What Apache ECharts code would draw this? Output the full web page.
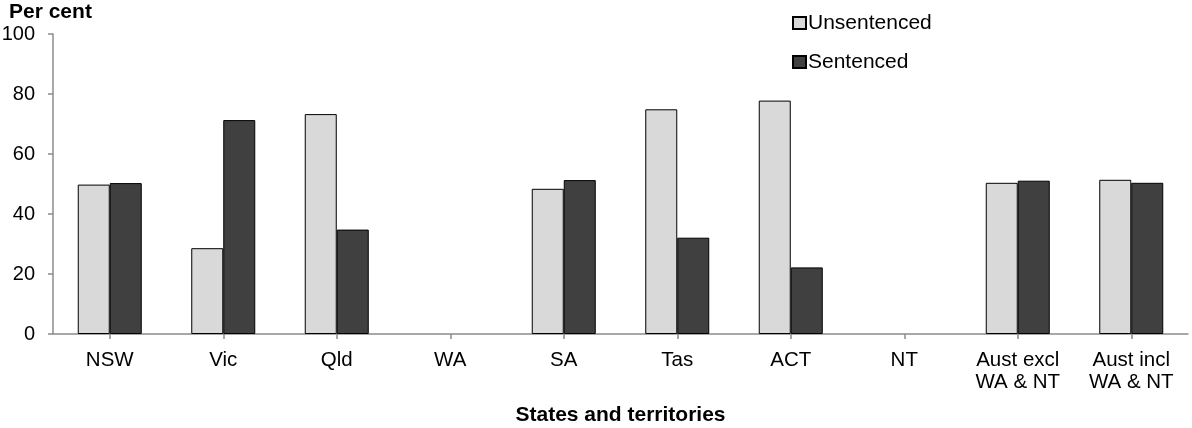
<!DOCTYPE html>
<html>
<head>
<meta charset="utf-8">
<title>Unsentenced and sentenced prisoners by state and territory</title>
<script src="https://cdn.jsdelivr.net/npm/echarts@6/dist/echarts.min.js"></script>
<style>
  html, body { margin: 0; padding: 0; background: #fff; }
  #chart { width: 1192px; height: 428px; }
</style>
</head>
<body>
<div id="chart"></div>
<script>
// States and territories along the category axis
const categories = ['NSW', 'Vic', 'Qld', 'WA', 'SA', 'Tas', 'ACT', 'NT', 'Aust excl\nWA & NT', 'Aust incl\nWA & NT'];

// Per cent values; WA and NT have no data
const unsentenced = [49.8, 28.6, 73.3, null, 48.4, 74.9, 77.8, null, 50.4, 51.4];
const sentenced   = [50.3, 71.3, 34.8, null, 51.3, 32.1, 22.2, null, 51.1, 50.4];

// Value axis ticks
const yTicks = [0, 20, 40, 60, 80, 100];

const FONT = '"Liberation Sans", Arial, sans-serif';
const AXIS_GREY = '#8c8c8c';

const chart = echarts.init(document.getElementById('chart'), null, { renderer: 'canvas' });

chart.setOption({
  animation: false,
  textStyle: { fontFamily: FONT },
  grid: { left: 53, right: 4, top: 34, bottom: 94, containLabel: false, outerBoundsMode: 'none' },
  title: {
    text: 'Per cent',
    left: 9, top: 2, padding: 0,
    textStyle: { fontFamily: FONT, fontSize: 21, fontWeight: 'bold', color: '#000' }
  },
  legend: {
    orient: 'vertical',
    left: 787, top: 7,
    itemWidth: 13, itemHeight: 12,
    itemGap: 17,
    icon: 'rect',
    textStyle: { fontFamily: FONT, fontSize: 21, color: '#000', lineHeight: 22, padding: [0, 0, 0, -3] },
    data: ['Unsentenced', 'Sentenced']
  },
  xAxis: {
    type: 'category',
    data: categories,
    boundaryGap: true,
    name: 'States and territories',
    nameLocation: 'middle',
    nameGap: 71,
    nameTextStyle: { fontFamily: FONT, fontSize: 21, fontWeight: 'bold', color: '#000', verticalAlign: 'top' },
    axisLine: { show: true, lineStyle: { color: AXIS_GREY, width: 1.5 } },
    axisTick: { show: true, alignWithLabel: true, length: 5, lineStyle: { color: AXIS_GREY, width: 1.5 } },
    axisLabel: { fontFamily: FONT, fontSize: 20.5, color: '#000', margin: 15, lineHeight: 22, interval: 0 },
    splitLine: { show: false }
  },
  yAxis: {
    type: 'value',
    min: yTicks[0],
    max: yTicks[yTicks.length - 1],
    interval: yTicks[1] - yTicks[0],
    axisLine: { show: true, lineStyle: { color: AXIS_GREY, width: 1.5 } },
    axisTick: { show: true, length: 5, lineStyle: { color: AXIS_GREY, width: 1.5 } },
    axisLabel: { fontFamily: FONT, fontSize: 20, color: '#000', margin: 18 },
    splitLine: { show: false }
  },
  series: [
    {
      name: 'Unsentenced',
      type: 'bar',
      data: unsentenced,
      barWidth: 32,
      barGap: '0%',
      itemStyle: { color: '#d9d9d9', borderColor: '#000', borderWidth: 1 }
    },
    {
      name: 'Sentenced',
      type: 'bar',
      data: sentenced,
      barWidth: 32,
      barGap: '0%',
      itemStyle: { color: '#404040', borderColor: '#000', borderWidth: 1 }
    }
  ]
});
</script>
</body>
</html>
